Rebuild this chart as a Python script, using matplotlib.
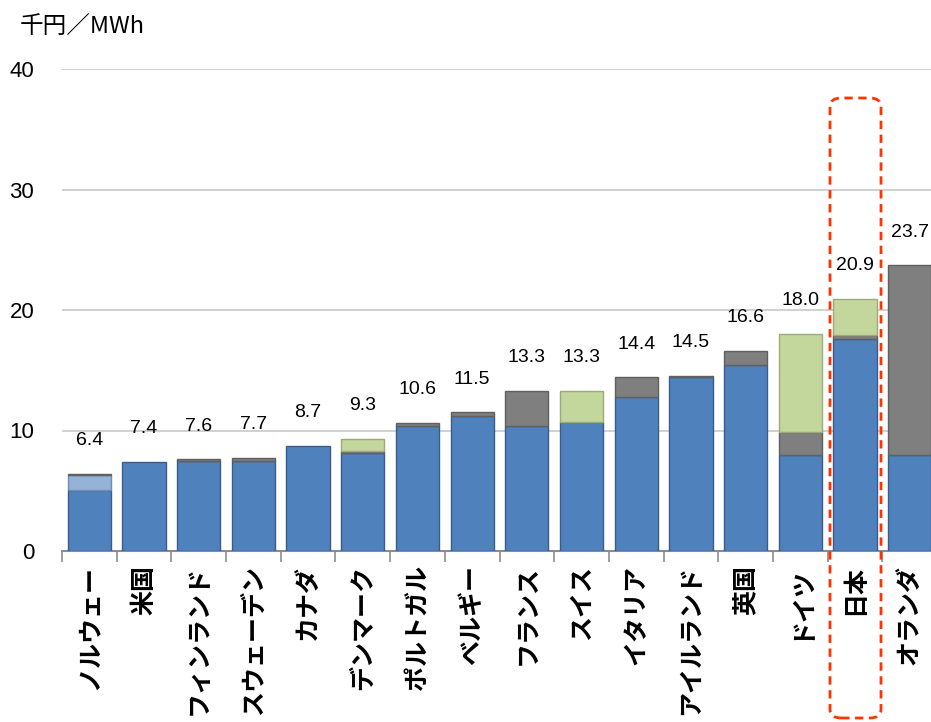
import matplotlib.pyplot as plt
from matplotlib.patches import FancyBboxPatch
import numpy as np

plt.rcParams['font.family'] = ['Noto Sans CJK JP', 'DejaVu Sans']

countries = ['ノルウェー', '米国', 'フィンランド', 'スウェーデン', 'カナダ', 'デンマーク',
             'ポルトガル', 'ベルギー', 'フランス', 'スイス', 'イタリア', 'アイルランド',
             '英国', 'ドイツ', '日本', 'オランダ']
base = [5.1, 7.4, 7.5, 7.5, 8.7, 8.1, 10.4, 11.2, 10.4, 10.7, 12.8, 14.4, 15.4, 8.0, 17.6, 8.0]
light_blue = [1.2, 0, 0, 0, 0, 0, 0, 0, 0, 0, 0, 0, 0, 0, 0, 0]
gray = [0.1, 0, 0.1, 0.2, 0, 0.2, 0.2, 0.3, 2.9, 0, 1.6, 0.1, 1.2, 1.9, 0.3, 15.7]
green = [0, 0, 0, 0, 0, 1.0, 0, 0, 0, 2.6, 0, 0, 0, 8.1, 3.0, 0]
totals = [6.4, 7.4, 7.6, 7.7, 8.7, 9.3, 10.6, 11.5, 13.3, 13.3, 14.4, 14.5, 16.6, 18.0, 20.9, 23.7]
yticks = [0, 10, 20, 30, 40]

fig = plt.figure(figsize=(9.31, 7.22), dpi=100)
# axes runs off the right edge like the original
ax = fig.add_axes([62 / 931, 171 / 722, 875 / 931, 482 / 722])

x = np.arange(len(countries))
w = 0.79
bottom = np.zeros(len(countries))
series = [(base, '#4F81BD', '#385D8A'),
          (light_blue, '#95B3D7', '#6F8DB3'),
          (gray, '#7F7F7F', '#606060'),
          (green, '#C3D69B', '#9BAA7A')]
for vals, col, edge in series:
    vals = np.array(vals)
    keep = vals > 0  # skip empty segments so no stray edge lines
    ax.bar(x[keep], vals[keep], w, bottom=bottom[keep], color=col, edgecolor=edge,
           linewidth=1, zorder=3)
    bottom += vals

for xi, t in zip(x, totals):
    ax.annotate(f'{t:.1f}', (xi, t), xytext=(0, 24), textcoords='offset points',
                ha='center', va='center', fontsize=14, family=['Liberation Sans'])

ax.set_xlim(-0.5, len(countries) - 0.5)
ax.set_ylim(0, 40)
ax.set_yticks(yticks)
ax.set_yticklabels([str(v) for v in yticks], family=['Liberation Sans'], fontsize=16)
ax.tick_params(axis='y', length=0, pad=20)
ax.yaxis.grid(True, color='#C8C8C8', linewidth=1.2, zorder=0)
ax.set_axisbelow(True)

# labels read bottom-to-top, ending just under the axis
ax.set_xticks(x)
ax.set_xticklabels(countries, rotation=90, fontsize=18, fontweight='bold',
                   va='top', ha='center')
ax.set_xticks(np.arange(len(countries) + 1) - 0.5, minor=True)
ax.tick_params(axis='x', which='major', length=0, pad=10)
ax.tick_params(axis='x', which='minor', length=8, color='#8C8C8C', width=1.2)

for s in ['top', 'right', 'left']:
    ax.spines[s].set_visible(False)
ax.spines['bottom'].set_color('#8C8C8C')
ax.spines['bottom'].set_linewidth(1.5)

fig.text(20 / 931, 1 - 27 / 722, '千円／MWh', fontsize=17, va='center', ha='left')

# highlight box around Japan
box = FancyBboxPatch((830 / 931, 1 - 718 / 722), 51 / 931, 620 / 722,
                     boxstyle='round,pad=0,rounding_size=0.012',
                     transform=fig.transFigure, fill=False, edgecolor='#FF3300',
                     linestyle=(0, (3, 2)), linewidth=2, clip_on=False, zorder=10)
fig.patches.append(box)

fig.savefig('out.png', dpi=100)
